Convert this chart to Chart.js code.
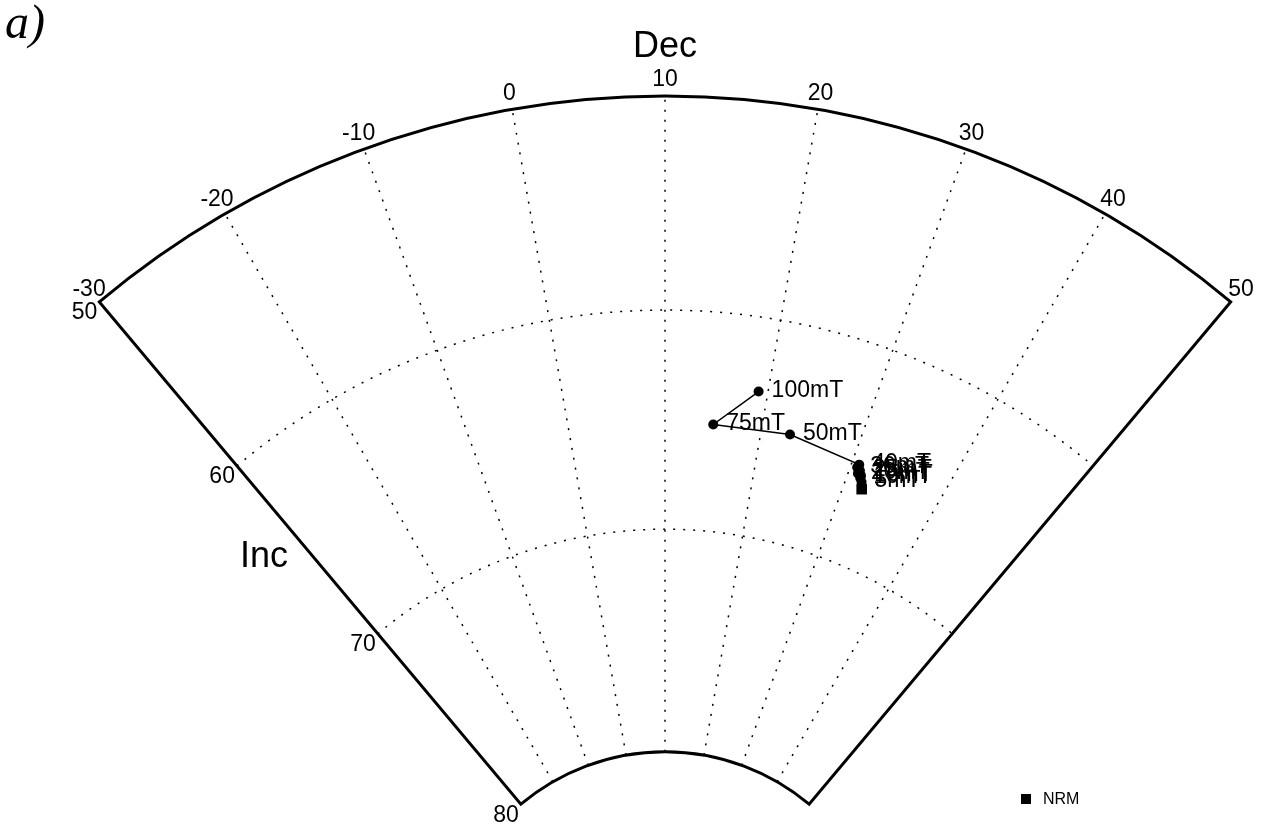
<!DOCTYPE html>
<html>
<head>
<meta charset="utf-8">
<title>AF demagnetisation - sector plot</title>
<script src="https://cdn.jsdelivr.net/npm/chart.js@4.4.1/dist/chart.umd.min.js"></script>
<style>
    html, body { margin: 0; padding: 0; background: #ffffff; }
    canvas { display: block; }
</style>
</head>
<body>
<canvas id="sectorChart" width="1261" height="830"></canvas>
<script>
// Demagnetisation steps (NRM first, then AF steps)
const steps = ['NRM', '5mT', '10mT', '15mT', '20mT', '25mT', '30mT', '40mT', '50mT', '75mT', '100mT'];
const declination = [32.0, 31.7, 31.4, 31.4, 31.0, 31.1, 30.7, 30.8, 23.0, 15.0, 19.1];
const inclination = [66.45, 66.15, 66.0, 65.9, 65.85, 65.7, 65.6, 65.45, 65.05, 65.15, 63.4];

// Sector limits and grid
const decTicks = [-30, -20, -10, 0, 10, 20, 30, 40, 50];
const incTicks = [50, 60, 70, 80];
const decMin = -30, decMax = 50, decMid = 10;
const incOuter = 50, incInner = 80;

const FONT = '"Liberation Sans", Arial, sans-serif';
const PX_PER_UNIT = 22;

// equal-area radius, scaled so the outer rim (inc 50) sits at 40 units
function rho(inc) {
    const half = (90 - inc) / 2 * Math.PI / 180;
    const halfOuter = (90 - incOuter) / 2 * Math.PI / 180;
    return 40 * Math.sin(half) / Math.sin(halfOuter);
}

// (dec, inc) -> plot coordinates
function toXY(dec, inc) {
    const a = (dec - decMid) * Math.PI / 180;
    const r = rho(inc);
    return { x: r * Math.sin(a), y: r * Math.cos(a) };
}

const points = declination.map((d, i) => toXY(d, inclination[i]));

/**
 * Sector frame, dotted grid and all axis text
 */
const sectorPlugin = {
    id: 'sectorGrid',

    geometry(chart) {
        const xs = chart.scales.x, ys = chart.scales.y;
        const cx = xs.getPixelForValue(0);
        const cy = ys.getPixelForValue(0);
        const rad = inc => xs.getPixelForValue(rho(inc)) - cx;
        const ang = dec => (-90 + (dec - decMid)) * Math.PI / 180;
        return { cx, cy, rad, ang };
    },

    beforeDatasetsDraw(chart) {
        const ctx = chart.ctx;
        const g = this.geometry(chart);
        const rOut = g.rad(incOuter), rIn = g.rad(incInner);

        ctx.save();
        ctx.strokeStyle = '#000';

        // dotted declination rays
        ctx.lineWidth = 1.5;
        ctx.setLineDash([2, 8]);
        decTicks.slice(1, -1).forEach(dec => {
            const a = g.ang(dec);
            ctx.beginPath();
            ctx.moveTo(g.cx + rIn * Math.cos(a), g.cy + rIn * Math.sin(a));
            ctx.lineTo(g.cx + rOut * Math.cos(a), g.cy + rOut * Math.sin(a));
            ctx.stroke();
        });

        // dotted inclination arcs
        incTicks.slice(1, -1).forEach(inc => {
            ctx.beginPath();
            ctx.arc(g.cx, g.cy, g.rad(inc), g.ang(decMin), g.ang(decMax));
            ctx.stroke();
        });

        // solid frame
        ctx.setLineDash([]);
        ctx.lineWidth = 3;
        ctx.lineJoin = 'miter';
        ctx.beginPath();
        ctx.arc(g.cx, g.cy, rOut, g.ang(decMin), g.ang(decMax));
        ctx.arc(g.cx, g.cy, rIn, g.ang(decMax), g.ang(decMin), true);
        ctx.closePath();
        ctx.stroke();
        ctx.restore();
    },

    afterDatasetsDraw(chart) {
        const ctx = chart.ctx;
        const g = this.geometry(chart);
        const rOut = g.rad(incOuter);

        ctx.save();
        ctx.fillStyle = '#000';

        // declination tick labels
        ctx.font = '23px ' + FONT;
        ctx.textAlign = 'center';
        ctx.textBaseline = 'middle';
        decTicks.forEach(dec => {
            const a = g.ang(dec);
            const r = rOut + 16;
            ctx.fillText(String(dec), g.cx + r * Math.cos(a), g.cy + r * Math.sin(a));
        });

        // inclination tick labels along the left edge
        ctx.textAlign = 'right';
        const aLeft = g.ang(decMin);
        incTicks.forEach(inc => {
            const r = g.rad(inc);
            const ex = g.cx + r * Math.cos(aLeft);
            const ey = g.cy + r * Math.sin(aLeft);
            ctx.fillText(String(inc), ex - 2, ey + 11);
        });

        // axis names
        ctx.font = '36px ' + FONT;
        ctx.textAlign = 'center';
        ctx.fillText('Dec', 665, 47);
        ctx.fillText('Inc', 264, 557);

        // step labels next to each point
        const meta = chart.getDatasetMeta(0);
        ctx.font = '23px ' + FONT;
        ctx.textAlign = 'left';
        meta.data.forEach((pt, i) => {
            if (i === 0) return;
            ctx.fillText(steps[i], pt.x + 13, pt.y - 1);
        });

        // legend
        ctx.fillRect(1021, 794, 10, 10);
        ctx.font = '16px ' + FONT;
        ctx.fillText('NRM', 1043, 800);

        // panel letter
        ctx.font = 'italic 48px "Liberation Serif", "Times New Roman", serif';
        ctx.textBaseline = 'alphabetic';
        ctx.fillText('a)', 5, 38);
        ctx.restore();
    }
};

const canvas = document.getElementById('sectorChart');
const W = canvas.width, H = canvas.height;
const CENTER_X = 665, CENTER_Y = 976;

new Chart(canvas.getContext('2d'), {
    type: 'scatter',
    data: {
        datasets: [{
            label: 'AF steps',
            data: points,
            showLine: true,
            borderColor: '#000',
            borderWidth: 1.5,
            backgroundColor: '#000',
            pointBackgroundColor: '#000',
            pointBorderColor: '#000',
            pointBorderWidth: 0,
            pointStyle: steps.map((s, i) => i === 0 ? 'rect' : 'circle'),
            pointRadius: steps.map((s, i) => i === 0 ? 7.5 : 5),
            clip: false
        }]
    },
    options: {
        responsive: false,
        devicePixelRatio: 1,
        animation: false,
        layout: { padding: 0, autoPadding: false },
        plugins: {
            legend: { display: false },
            tooltip: { enabled: false }
        },
        scales: {
            x: {
                type: 'linear',
                display: false,
                min: -CENTER_X / PX_PER_UNIT,
                max: (W - CENTER_X) / PX_PER_UNIT
            },
            y: {
                type: 'linear',
                display: false,
                min: (CENTER_Y - H) / PX_PER_UNIT,
                max: CENTER_Y / PX_PER_UNIT
            }
        }
    },
    plugins: [sectorPlugin]
});
</script>
</body>
</html>
